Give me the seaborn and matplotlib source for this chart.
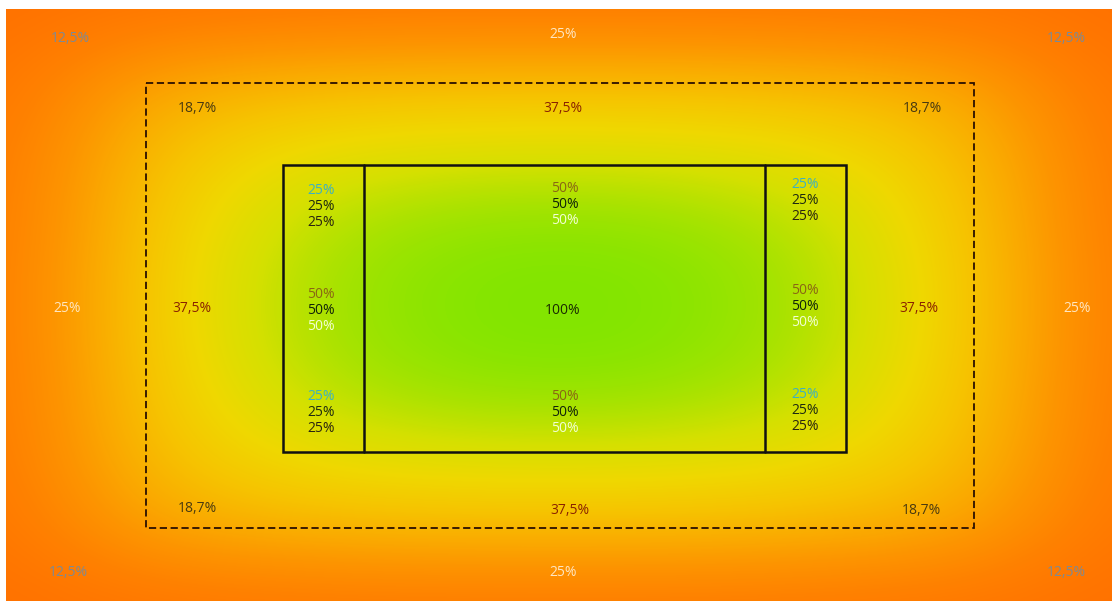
import numpy as np
import seaborn as sns
import matplotlib.pyplot as plt
from matplotlib.patches import Rectangle

# colour level of the background (0 = orange edge, 1 = green centre), read on a 9x9 grid
levels = [
    [0.00, 0.04, 0.06, 0.07, 0.07, 0.07, 0.06, 0.04, 0.00],
    [0.04, 0.34, 0.42, 0.45, 0.45, 0.45, 0.42, 0.34, 0.04],
    [0.07, 0.46, 0.66, 0.72, 0.74, 0.72, 0.66, 0.46, 0.07],
    [0.08, 0.50, 0.80, 0.94, 0.98, 0.94, 0.80, 0.50, 0.08],
    [0.09, 0.52, 0.84, 0.98, 1.00, 0.98, 0.84, 0.52, 0.09],
    [0.08, 0.50, 0.80, 0.94, 0.98, 0.94, 0.80, 0.50, 0.08],
    [0.07, 0.46, 0.66, 0.72, 0.74, 0.72, 0.66, 0.46, 0.07],
    [0.04, 0.34, 0.42, 0.45, 0.45, 0.45, 0.42, 0.34, 0.04],
    [0.00, 0.04, 0.06, 0.07, 0.07, 0.07, 0.06, 0.04, 0.00],
]
ramp = ["#FF7000", "#FF8000", "#FD9400", "#FAAC00", "#F6C400",
        "#EFD800", "#D6E000", "#A8E300", "#7EE600"]

# labels
corner_lbl = "12,5%"
edge_lbl = "25%"
dash_corner_lbl = "18,7%"
dash_edge_lbl = "37,5%"
centre_lbl = "100%"
side_top = ["25%", "25%", "25%"]
side_mid = ["50%", "50%", "50%"]
mid_col = ["50%", "50%", "50%"]
trio25_colors = ["#3cb0c4", "#1e2a10", "#2a2410"]
trio50_colors = ["#8a6614", "#10220a", "#f2ffd4"]

# layout (pixels of the 1112x601 picture)
W, H = 1112, 601
x0, y0 = 6, 9
dash_box = (146, 83, 974, 528)
inner_box = (283, 165, 846, 452)
dividers = [364, 765]

sns.set_theme(style="white")
plt.rcParams['font.family'] = ['Open Sans', 'DejaVu Sans']

fig = plt.figure(figsize=(W / 100, H / 100), dpi=100)
ax = fig.add_axes([0, 0, 1, 1])
ax.set_xlim(0, W)
ax.set_ylim(H, 0)
ax.axis("off")

cmap = sns.blend_palette(ramp, as_cmap=True)
grid = np.array(levels)
ny, nx = grid.shape
dx = (W - x0) / (nx - 1)
dy = (H - y0) / (ny - 1)
img = ax.imshow(grid, cmap=cmap, vmin=0, vmax=1, interpolation="bicubic",
                extent=(x0 - dx / 2, W + dx / 2, H + dy / 2, y0 - dy / 2),
                aspect="auto", zorder=0)
clip = Rectangle((x0, y0), W - x0, H - y0, transform=ax.transData)
img.set_clip_path(clip)

# boxes
l, t, r, b = dash_box
ax.add_patch(Rectangle((l, t), r - l, b - t, fill=False, ec="#2a1000",
                       lw=1.3, ls=(0, (4, 2))))
l, t, r, b = inner_box
ax.add_patch(Rectangle((l, t), r - l, b - t, fill=False, ec="#111111", lw=1.8))
for xd in dividers:
    ax.plot([xd, xd], [t, b], color="#111111", lw=1.8)

fs = 10
def put(x, y, s, c):
    ax.text(x, y, s, color=c, fontsize=fs, ha="center", va="center")

for (x, y) in [(70, 38), (1066, 38), (68, 572), (1066, 573)]:
    put(x, y, corner_lbl, "#7d8a94")
for (x, y) in [(563, 35), (563, 572), (67, 308), (1077, 308)]:
    put(x, y, edge_lbl, "#ffe6c2")
for (x, y) in [(197, 109), (922, 109), (197, 508), (921, 510)]:
    put(x, y, dash_corner_lbl, "#4a3a10")
for (x, y) in [(563, 109), (570, 510), (192, 308), (919, 308)]:
    put(x, y, dash_edge_lbl, "#8a2200")
put(563, 310, centre_lbl, "#1a2a00")

for xc, ys in [(321, 190), (805, 185)]:
    for i, s in enumerate(side_top):
        put(xc, ys + 16 * i, s, trio25_colors[i])
for xc, ys in [(321, 396), (805, 395)]:
    for i, s in enumerate(side_top):
        put(xc, ys + 16 * i, s, trio25_colors[i])
for xc, ys in [(321, 294), (805, 291)]:
    for i, s in enumerate(side_mid):
        put(xc, ys + 16 * i, s, trio50_colors[i])
for ys in [188, 396]:
    for i, s in enumerate(mid_col):
        put(565, ys + 16 * i, s, trio50_colors[i])

fig.savefig("out.png", dpi=100, facecolor="white")
